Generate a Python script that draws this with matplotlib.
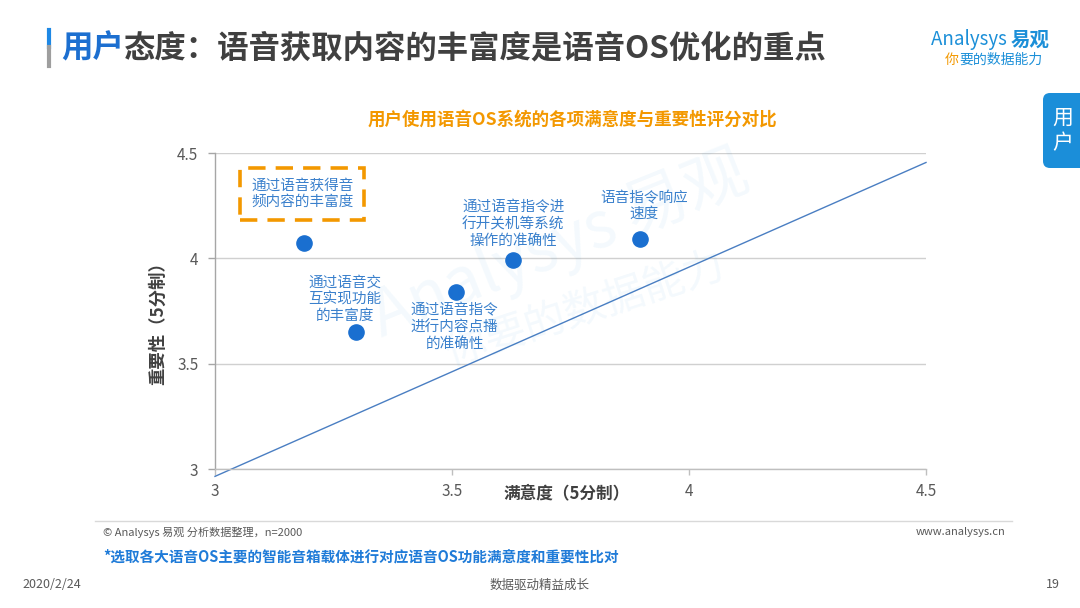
import matplotlib
matplotlib.use("Agg")
import matplotlib.pyplot as plt
from matplotlib.lines import Line2D
from matplotlib.patches import FancyBboxPatch
from matplotlib.transforms import IdentityTransform

plt.rcParams['font.family'] = ['Noto Sans CJK SC', 'DejaVu Sans']

# ---------------- data ----------------
labels = ["通过语音获得音\n频内容的丰富度",
          "通过语音交\n互实现功能\n的丰富度",
          "通过语音指令\n进行内容点播\n的准确性",
          "通过语音指令进\n行开关机等系统\n操作的准确性",
          "语音指令响应\n速度"]
satisfaction = [3.188, 3.297, 3.508, 3.629, 3.897]
importance = [4.073, 3.650, 3.840, 3.992, 4.092]
ref_x = [3.0, 4.5]
ref_y = [2.965, 4.455]
ticks = [3, 3.5, 4, 4.5]
tick_labels = ["3", "3.5", "4", "4.5"]

# label offsets (pixels) relative to each point
offsets = [(-2, 49), (-11, 33), (-1, -35), (0, 36), (4, 33)]

W, H = 1080, 608
fig = plt.figure(figsize=(10.8, 6.08), dpi=100)
fig.patch.set_facecolor("white")

def fx(px):
    return px / W

def fy(py):
    return 1 - py / H

BLUE = "#1A6FD0"
LBLUE = "#3A80CC"
ORANGE = "#F39800"
DARK = "#404040"
GRAY = "#595959"

# ---------------- watermark ----------------
fig.text(fx(560), fy(245), "Analysys 易观", fontsize=46, color="#1B8FD8", alpha=0.05,
         rotation=22, ha="center", va="center", zorder=0)
fig.text(fx(585), fy(310), "你要的数据能力", fontsize=30, color="#1B8FD8", alpha=0.05,
         rotation=18, ha="center", va="center", zorder=0)

# ---------------- axes ----------------
ax = fig.add_axes([fx(215), fy(469), fx(926) - fx(215), fy(153) - fy(469)])
ax.set_facecolor("none")
ax.set_xlim(3, 4.5)
ax.set_ylim(3, 4.5)
ax.set_xticks(ticks)
ax.set_xticklabels(tick_labels)
ax.set_yticks(ticks)
ax.set_yticklabels(tick_labels)
for s in ["top", "right"]:
    ax.spines[s].set_visible(False)
ax.spines["left"].set_color("#A6A6A6")
ax.spines["bottom"].set_color("#BFBFBF")
ax.spines["left"].set_linewidth(1)
ax.spines["bottom"].set_linewidth(1)
ax.tick_params(axis="y", length=5, width=1, color="#A6A6A6", pad=7, labelsize=11, labelcolor=GRAY)
ax.tick_params(axis="x", length=4, width=1, color="#BFBFBF", pad=6, labelsize=11, labelcolor=GRAY)
ax.yaxis.grid(True, color="#D0D0D0", linewidth=1)
ax.set_axisbelow(True)

ax.plot(ref_x, ref_y, color="#4A7EC2", linewidth=1, clip_on=False, zorder=2)
ax.scatter(satisfaction, importance, s=120, color=BLUE, zorder=3, clip_on=False)

for i, (lab, x, y, off) in enumerate(zip(labels, satisfaction, importance, offsets)):
    kw = {}
    if i == 0:
        kw["bbox"] = dict(boxstyle="square,pad=0.75", fc="none", ec=ORANGE,
                          ls=(0, (4.8, 2.8)), lw=2.6)
    ax.annotate(lab, (x, y), xytext=off, textcoords="offset pixels",
                ha="center", va="center", fontsize=10.5, color=LBLUE,
                linespacing=1.2, zorder=4, **kw)

# axis titles
fig.text(fx(567), fy(493), "满意度（5分制）", fontsize=12, fontweight="bold",
         color=DARK, ha="center", va="center")
fig.text(fx(158), fy(319), "重要性（5分制）", fontsize=12.5, fontweight="bold",
         color=DARK, ha="center", va="center", rotation=90)

# chart subtitle
fig.text(fx(572), fy(120), "用户使用语音OS系统的各项满意度与重要性评分对比", fontsize=12.6,
         fontweight="bold", color=ORANGE, ha="center", va="center")

# ---------------- title ----------------
fig.add_artist(Line2D([fx(49), fx(49)], [fy(30), fy(47)], color="#1E88E5", lw=3,
                      transform=fig.transFigure))
fig.add_artist(Line2D([fx(49), fx(49)], [fy(47), fy(66)], color="#9E9E9E", lw=3,
                      transform=fig.transFigure))
t1 = fig.text(fx(61), fy(48), "用户", fontsize=22.6, fontweight="bold", color="#1C6FD0",
              ha="left", va="center")
plt.annotate("态度：语音获取内容的丰富度是语音OS优化的重点", xy=(1, 0), xycoords=t1,
             fontsize=22.6, fontweight="bold", color="#404040", ha="left", va="bottom",
             annotation_clip=False)

# logo
t3 = fig.text(fx(1050), fy(40), "易观", fontsize=14, fontweight="bold",
              color="#1B8FD8", ha="right", va="center")
plt.annotate("Analysys ", xy=(0, 0), xycoords=t3, fontsize=13.5, color="#1B8FD8",
             ha="right", va="bottom", annotation_clip=False)
t2 = fig.text(fx(945), fy(60), "你", fontsize=10, color="#F39800", ha="left", va="center")
plt.annotate("要的数据能力", xy=(1, 0), xycoords=t2, fontsize=10, color="#1B8FD8",
             ha="left", va="bottom", annotation_clip=False)

# side tab
tab = FancyBboxPatch((1043, H - 168), 60, 75, boxstyle="round,pad=0,rounding_size=7",
                     transform=IdentityTransform(), facecolor="#1B8ED9", edgecolor="none")
fig.add_artist(tab)
fig.text(fx(1063), fy(118), "用", fontsize=15, color="white", ha="center", va="center")
fig.text(fx(1063), fy(143), "户", fontsize=15, color="white", ha="center", va="center")

# ---------------- footer ----------------
fig.add_artist(Line2D([fx(95), fx(1012)], [fy(521), fy(521)], color="#D9D9D9", lw=1,
                      transform=fig.transFigure))
fig.text(fx(103), fy(532), "© Analysys 易观 分析数据整理，n=2000", fontsize=8, color=GRAY,
         ha="left", va="center")
fig.text(fx(1005), fy(532), "www.analysys.cn", fontsize=8, color=GRAY, ha="right", va="center")
fig.text(fx(103), fy(556), "*选取各大语音OS主要的智能音箱载体进行对应语音OS功能满意度和重要性比对",
         fontsize=10.5, fontweight="bold", color="#1F7BD8", ha="left", va="center")
fig.text(fx(22), fy(585), "2020/2/24", fontsize=9, color=GRAY, ha="left", va="center")
fig.text(fx(540), fy(585), "数据驱动精益成长", fontsize=9, color=GRAY, ha="center", va="center")
fig.text(fx(1060), fy(585), "19", fontsize=9, color=GRAY, ha="right", va="center")

fig.savefig("out.png", dpi=100, facecolor="white")
